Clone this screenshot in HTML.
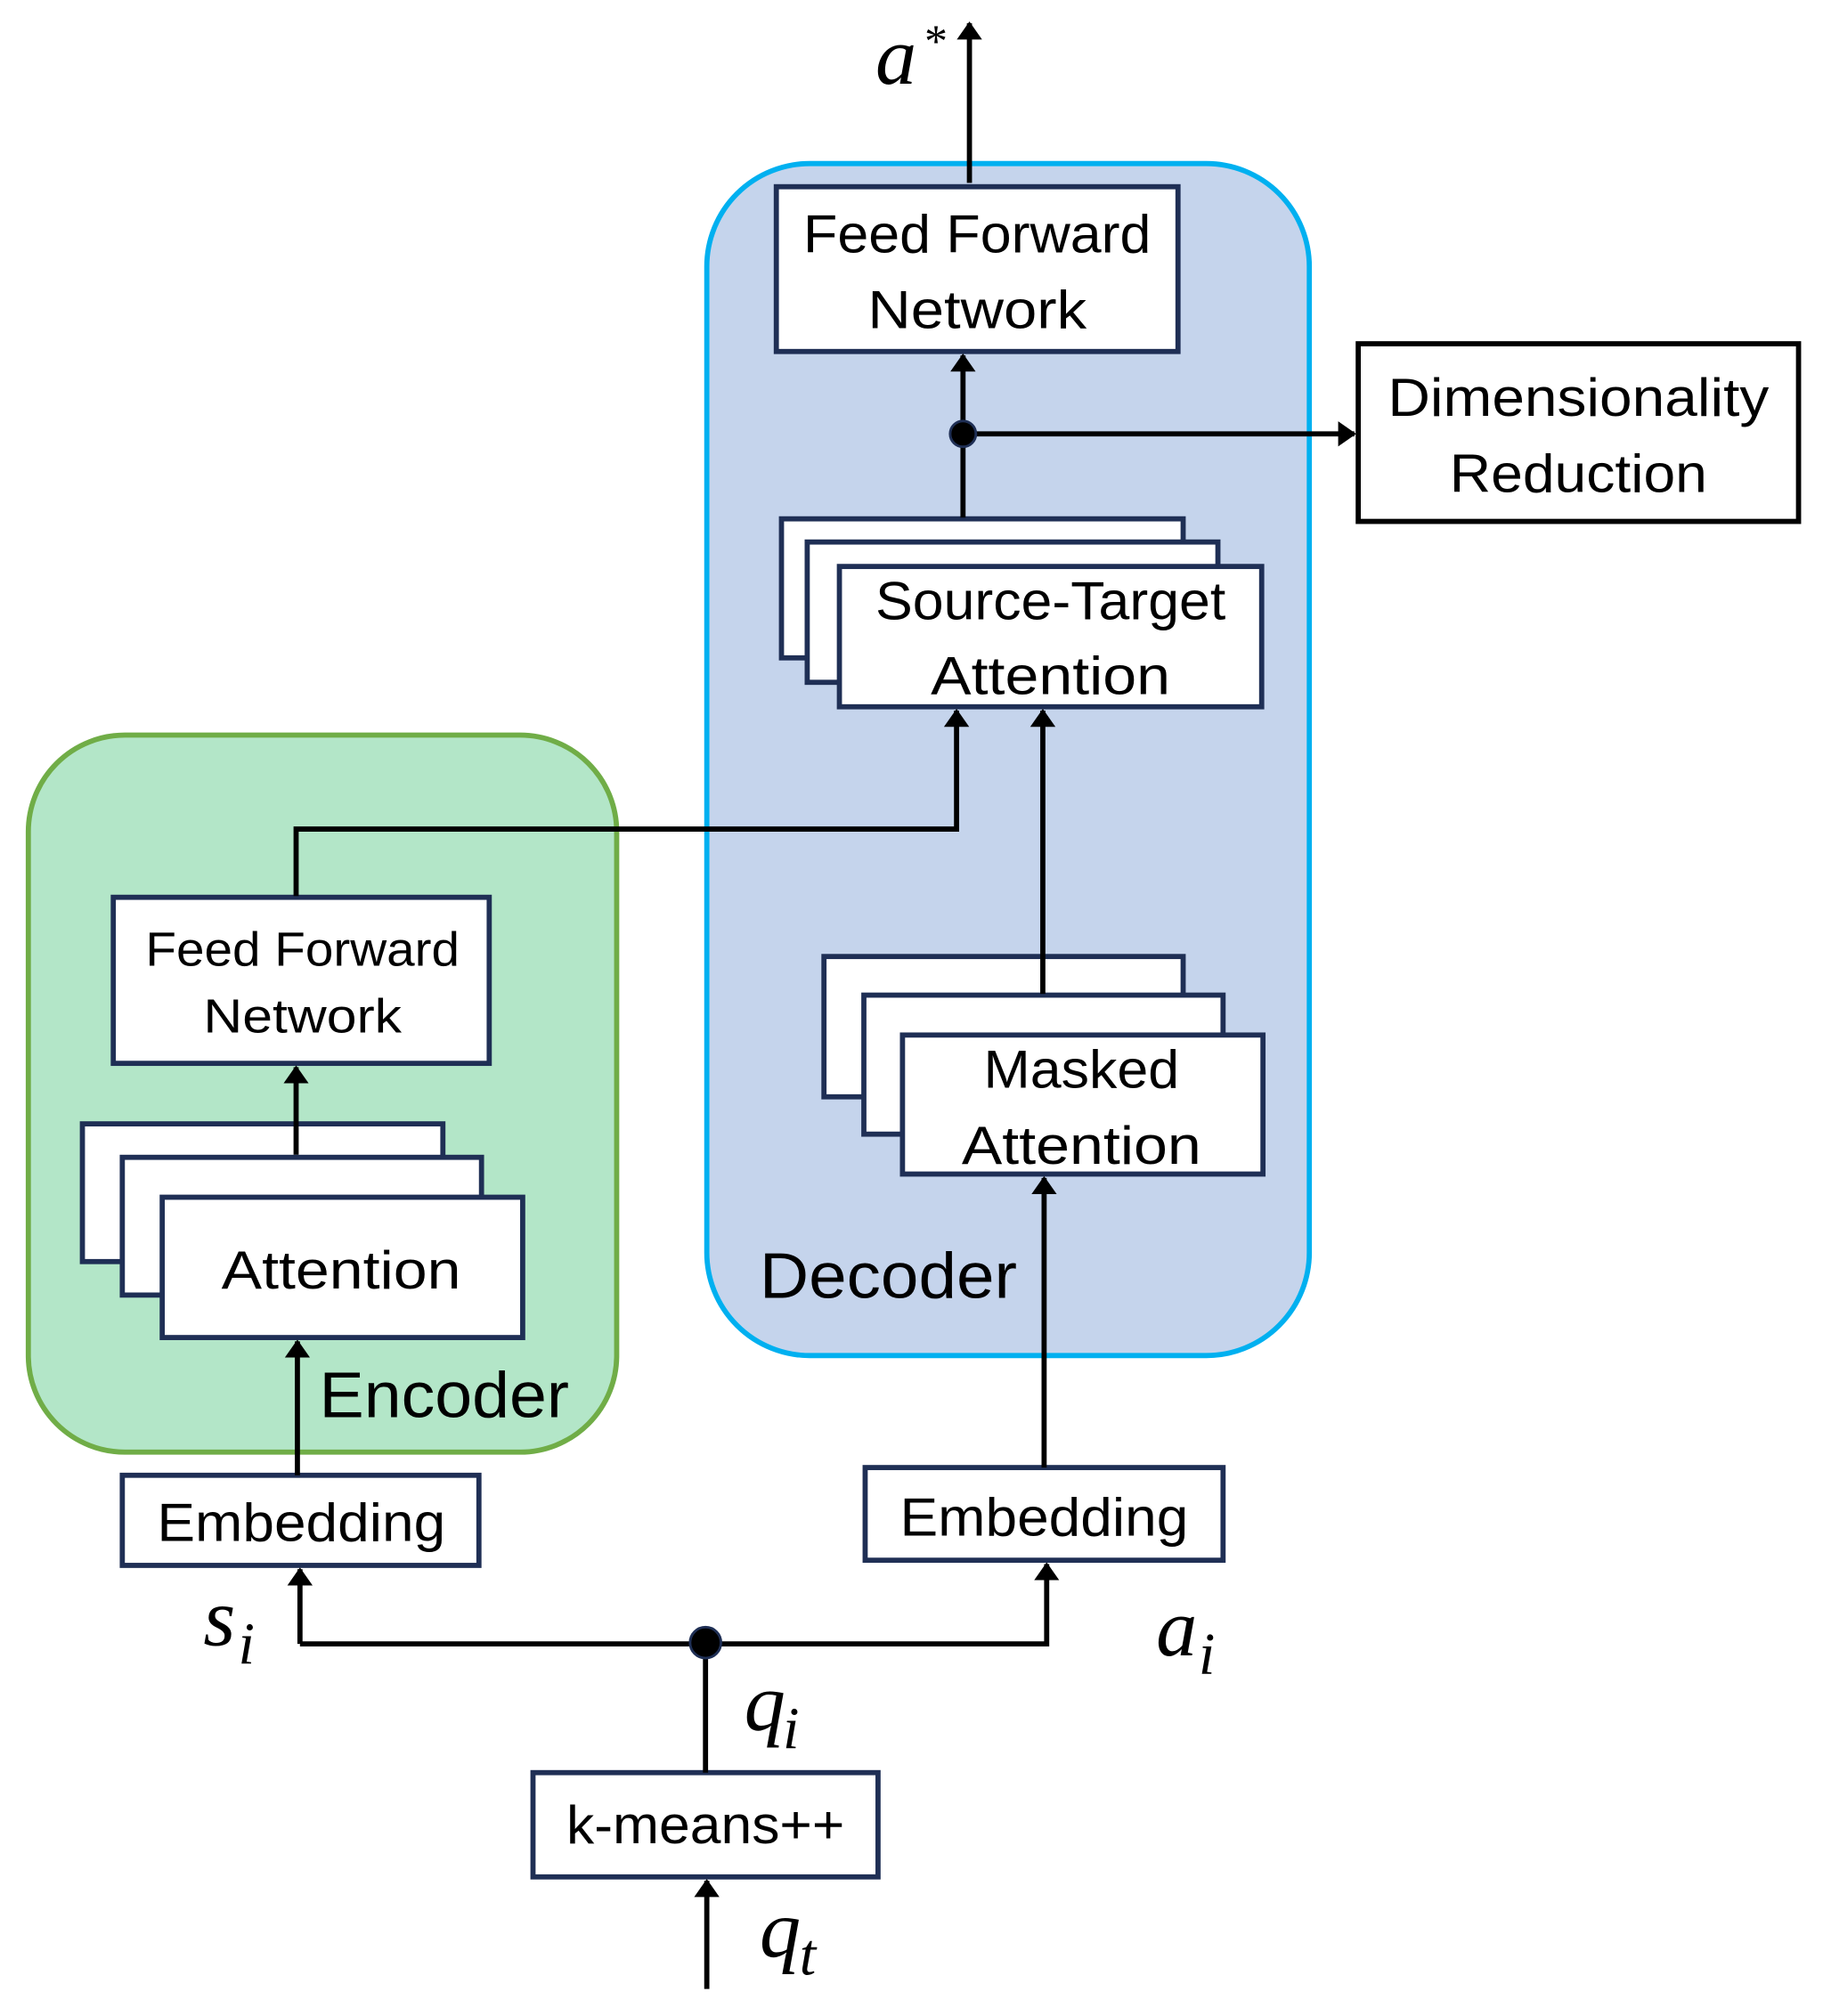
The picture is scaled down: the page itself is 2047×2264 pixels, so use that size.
<!DOCTYPE html>
<html><head><meta charset="utf-8"><style>html,body{margin:0;padding:0;background:#fff}svg{display:block}</style></head><body>
<svg width="2047" height="2264" viewBox="0 0 1416 1566" xmlns="http://www.w3.org/2000/svg">
<defs><marker id="ah" viewBox="0 0 10 14" refX="9" refY="7" markerWidth="3.5" markerHeight="5" orient="auto-start-reverse"><path d="M0,0 L10,7 L0,14 z" fill="#000"/></marker></defs>
<g font-family="Liberation Sans, sans-serif" fill="#000">
<rect x="549" y="127" width="468" height="926" rx="80" fill="#c5d4ec" stroke="#00b0f0" stroke-width="4"/>
<rect x="22" y="571" width="457" height="557" rx="75" fill="#b3e6c8" stroke="#70ad47" stroke-width="4"/>
<g stroke="#1f2f55" stroke-width="4" fill="#fff">
<rect x="603" y="145" width="312" height="128"/>
<rect x="607" y="403" width="312" height="108"/>
<rect x="627" y="421" width="319" height="109"/>
<rect x="652" y="440" width="328" height="109"/>
<rect x="88" y="697" width="292" height="129"/>
<rect x="64" y="873" width="280" height="107"/>
<rect x="95" y="899" width="279" height="107"/>
<rect x="126" y="930" width="280" height="109"/>
<rect x="640" y="743" width="279" height="109"/>
<rect x="671" y="773" width="279" height="108"/>
<rect x="701" y="804" width="280" height="108"/>
<rect x="95" y="1146" width="277" height="70"/>
<rect x="672" y="1140" width="278" height="72"/>
<rect x="414" y="1377" width="268" height="81"/>
</g>
<rect x="1055" y="267" width="342" height="138" fill="#fff" stroke="#000" stroke-width="4"/>
<g stroke="#000" stroke-width="4" fill="none">
<line x1="753" y1="142" x2="753" y2="18" marker-end="url(#ah)"/>
<line x1="748" y1="402" x2="748" y2="276" marker-end="url(#ah)"/>
<line x1="748" y1="337" x2="1052" y2="337" marker-end="url(#ah)"/>
<polyline points="230,696 230,644 743,644 743,552" marker-end="url(#ah)"/>
<line x1="810" y1="772" x2="810" y2="552" marker-end="url(#ah)"/>
<line x1="230" y1="897" x2="230" y2="829" marker-end="url(#ah)"/>
<line x1="811" y1="1140" x2="811" y2="915" marker-end="url(#ah)"/>
<line x1="231" y1="1146" x2="231" y2="1042" marker-end="url(#ah)"/>
<polyline points="233,1277 233,1219" marker-end="url(#ah)"/>
<polyline points="233,1277 813,1277 813,1215" marker-end="url(#ah)"/>
<line x1="548" y1="1277" x2="548" y2="1377"/>
<line x1="549" y1="1545" x2="549" y2="1461" marker-end="url(#ah)"/>
</g>
<circle cx="748" cy="337" r="10" fill="#000" stroke="#1f2f55" stroke-width="2"/>
<circle cx="548" cy="1276" r="12" fill="#000" stroke="#1f2f55" stroke-width="2"/>
<g font-size="42" text-anchor="middle">
<text x="759" y="196" textLength="270" lengthAdjust="spacingAndGlyphs">Feed Forward</text>
<text x="759" y="255" textLength="170" lengthAdjust="spacingAndGlyphs">Network</text>
<text x="1226" y="323" textLength="296" lengthAdjust="spacingAndGlyphs">Dimensionality</text>
<text x="1226" y="382" textLength="200" lengthAdjust="spacingAndGlyphs">Reduction</text>
<text x="816" y="481" textLength="272" lengthAdjust="spacingAndGlyphs">Source-Target</text>
<text x="816" y="539" textLength="186" lengthAdjust="spacingAndGlyphs">Attention</text>
<text x="840" y="845" textLength="152" lengthAdjust="spacingAndGlyphs">Masked</text>
<text x="840" y="904" textLength="186" lengthAdjust="spacingAndGlyphs">Attention</text>
<text x="265" y="1001" textLength="186" lengthAdjust="spacingAndGlyphs">Attention</text>
<text x="234" y="1197" textLength="224" lengthAdjust="spacingAndGlyphs">Embedding</text>
<text x="811" y="1193" textLength="224" lengthAdjust="spacingAndGlyphs">Embedding</text>
<text x="548" y="1432" textLength="216" lengthAdjust="spacingAndGlyphs">k-means++</text>
</g>
<g font-size="37" text-anchor="middle">
<text x="235" y="750" textLength="244" lengthAdjust="spacingAndGlyphs">Feed Forward</text>
<text x="235" y="802" textLength="154" lengthAdjust="spacingAndGlyphs">Network</text>
</g>
<text x="590" y="1008" font-size="50" textLength="200" lengthAdjust="spacingAndGlyphs">Decoder</text>
<text x="248" y="1101" font-size="50" textLength="194" lengthAdjust="spacingAndGlyphs">Encoder</text>
<g font-family="Liberation Serif, serif" font-style="italic" font-size="64">
<text x="680" y="65">a</text><text x="718" y="44" font-size="36" font-style="normal">*</text>
<text x="158" y="1278">s</text><text x="185" y="1292" font-size="46">i</text>
<text x="898" y="1286">a</text><text x="931" y="1300" font-size="46">i</text>
<text x="578" y="1344">q</text><text x="608" y="1358" font-size="46">i</text>
<text x="590" y="1520">q</text><text x="621" y="1534" font-size="46">t</text>
</g>
</g>
</svg>
</body></html>
